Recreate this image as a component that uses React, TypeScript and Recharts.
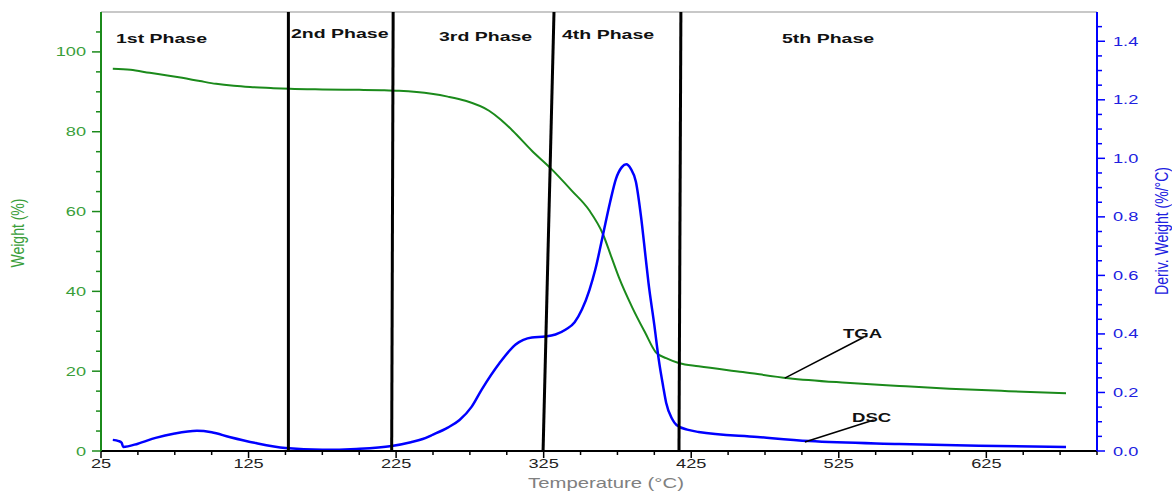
import React from 'react';
import { LineChart, Line, XAxis, YAxis, ReferenceLine } from 'recharts';

// TGA curve: temperature (°C) / weight (%)
const TGA_TEMP = [33, 45, 58, 70, 80, 92, 103, 115, 126, 140, 153, 175, 200, 215, 227, 249, 260, 272, 288, 296, 304, 317, 330, 344, 356, 365, 371, 376, 385, 394, 401, 408, 417, 430, 460, 491, 530, 566, 600, 640, 679];
const TGA_WEIGHT = [95.75, 95.5, 94.75, 94.1, 93.5, 92.7, 92.0, 91.5, 91.2, 90.95, 90.75, 90.6, 90.5, 90.4, 90.25, 89.5, 88.8, 87.75, 85.25, 83, 80.25, 75.25, 70.75, 65.25, 60.25, 54.5, 48.5, 43.5, 36, 29.5, 24.75, 23.25, 22, 21.25, 19.8, 18.25, 17.1, 16.3, 15.6, 15, 14.5];

// DSC / derivative weight curve: temperature (°C) / deriv. weight (%/°C)
const DSC_TEMP = [33, 37, 39, 40, 50, 62, 75, 90, 100, 112, 130, 150, 175, 198, 222, 235, 243, 250, 260, 268, 276, 283, 295, 306, 317, 326, 333, 340, 346, 351, 356, 360, 365, 370, 374, 378, 381, 384, 387.5, 391, 394, 396, 400, 403, 406, 408, 412, 415, 423, 430, 470, 505, 566, 620, 679];
const DSC_DERIV = [0.038, 0.034, 0.028, 0.014, 0.025, 0.045, 0.06, 0.069, 0.064, 0.048, 0.027, 0.01, 0.004, 0.007, 0.017, 0.03, 0.041, 0.056, 0.08, 0.106, 0.15, 0.21, 0.3, 0.364, 0.388, 0.391, 0.398, 0.415, 0.44, 0.484, 0.55, 0.62, 0.734, 0.85, 0.93, 0.97, 0.98, 0.965, 0.92, 0.8, 0.666, 0.576, 0.43, 0.312, 0.22, 0.165, 0.11, 0.089, 0.072, 0.065, 0.048, 0.034, 0.024, 0.018, 0.014];

const X_TICKS = [25, 50, 75, 100, 125, 150, 175, 200, 225, 250, 275, 300, 325, 350, 375, 400, 425, 450, 475, 500, 525, 550, 575, 600, 625, 650, 675, 700];
const WEIGHT_TICKS = [0, 5, 10, 15, 20, 25, 30, 35, 40, 45, 50, 55, 60, 65, 70, 75, 80, 85, 90, 95, 100, 105];
const DERIV_TICKS = [0, 0.05, 0.1, 0.15, 0.2, 0.25, 0.3, 0.35, 0.4, 0.45, 0.5, 0.55, 0.6, 0.65, 0.7, 0.75, 0.8, 0.85, 0.9, 0.95, 1.0, 1.05, 1.1, 1.15, 1.2, 1.25, 1.3, 1.35, 1.4, 1.45];

// phase boundaries: temperature at bottom and at top of the plot
const PHASE_BOTTOM = [152, 222, 324.6, 416.7];
const PHASE_TOP = [152, 223, 332, 418];
const PHASE_LABELS = ['1st Phase', '2nd Phase', '3rd Phase', '4th Phase', '5th Phase'];

const tgaData = TGA_TEMP.map((t, i) => ({ t, v: TGA_WEIGHT[i] }));
const dscData = DSC_TEMP.map((t, i) => ({ t, v: DSC_DERIV[i] }));

const GREEN = '#1b8a1b';
const GREEN_TXT = '#3a9e3a';
const BLUE = '#0000ff';
const FONT = '"Liberation Sans", Arial, sans-serif';
const SX = 1.4;

const XTick = ({ x, y, payload }: any) => {
  const v = payload.value;
  const major = (v - 25) % 100 === 0 && v < 700;
  return (
    <g>
      <line x1={x} x2={x} y1={y} y2={y + (major ? 7 : 4)} stroke="#000" strokeWidth={1.5} />
      {major && (
        <text transform={`translate(${x},${y + 17}) scale(${SX},1)`} textAnchor="middle" fontSize={13} fontFamily={FONT} fill="#222">
          {v}
        </text>
      )}
    </g>
  );
};

const WeightTick = ({ x, y, payload }: any) => {
  const v = payload.value;
  const major = v % 20 === 0;
  return (
    <g>
      <line x1={x - (major ? 9 : 5)} x2={x} y1={y} y2={y} stroke={GREEN} strokeWidth={1.5} />
      {major && (
        <text transform={`translate(${x - 15},${y + 4.5}) scale(${SX},1)`} textAnchor="end" fontSize={13} fontFamily={FONT} fill={GREEN_TXT}>
          {v}
        </text>
      )}
    </g>
  );
};

const DerivTick = ({ x, y, payload }: any) => {
  const v = payload.value;
  const major = Math.round(v * 100) % 20 === 0;
  return (
    <g>
      <line x1={x} x2={x + (major ? 8 : 5)} y1={y} y2={y} stroke={BLUE} strokeWidth={1.5} />
      {major && (
        <text transform={`translate(${x + 16},${y + 4.5}) scale(${SX},1)`} textAnchor="start" fontSize={13} fontFamily={FONT} fill="#2020e0">
          {v.toFixed(1)}
        </text>
      )}
    </g>
  );
};

// label placement (px) for phase names
const PHASE_POS = [
  [116, 43],
  [291, 37.5],
  [439, 41],
  [562, 39],
  [782, 43],
];

export default function App() {
  return (
    <div style={{ position: 'absolute', left: 0, top: 0, width: 1172, height: 491, background: '#fff' }}>
      <LineChart width={1172} height={491} margin={{ top: 12, right: 0, bottom: 0, left: 0 }}>
        <XAxis
          type="number"
          dataKey="t"
          domain={[25, 700]}
          ticks={X_TICKS}
          interval={0}
          tick={XTick}
          tickLine={false}
          tickSize={0}
          tickMargin={0}
          axisLine={{ stroke: '#000', strokeWidth: 2 }}
          height={40}
          allowDataOverflow
        />
        <YAxis
          yAxisId="w"
          type="number"
          domain={[0, 110]}
          ticks={WEIGHT_TICKS}
          interval={0}
          tick={WeightTick}
          tickLine={false}
          tickSize={0}
          tickMargin={0}
          axisLine={{ stroke: GREEN, strokeWidth: 2 }}
          width={101}
          allowDataOverflow
        />
        <YAxis
          yAxisId="d"
          orientation="right"
          type="number"
          domain={[0, 1.5]}
          ticks={DERIV_TICKS}
          interval={0}
          tick={DerivTick}
          tickLine={false}
          tickSize={0}
          tickMargin={0}
          axisLine={{ stroke: BLUE, strokeWidth: 2 }}
          width={75}
          allowDataOverflow
        />
        <ReferenceLine yAxisId="w" y={110} stroke="#c8c8c8" strokeWidth={2} />
        <Line yAxisId="w" data={tgaData} dataKey="v" type="monotone" stroke={GREEN} strokeWidth={2} dot={false} isAnimationActive={false} />
        <Line yAxisId="d" data={dscData} dataKey="v" type="monotone" stroke={BLUE} strokeWidth={2.5} dot={false} isAnimationActive={false} />
        {PHASE_BOTTOM.map((b, i) => (
          <ReferenceLine
            key={i}
            yAxisId="w"
            segment={[{ x: b, y: 0 }, { x: PHASE_TOP[i], y: 110 }]}
            stroke="#000"
            strokeWidth={3}
          />
        ))}
        <ReferenceLine yAxisId="w" segment={[{ x: 488.4, y: 18.25 }, { x: 541.9, y: 28.5 }]} stroke="#000" strokeWidth={1.5} />
        <ReferenceLine yAxisId="d" segment={[{ x: 502, y: 0.031 }, { x: 548.7, y: 0.106 }]} stroke="#000" strokeWidth={1.5} />
      </LineChart>
      <svg width={1172} height={491} style={{ position: 'absolute', left: 0, top: 0, pointerEvents: 'none' }}>
        {PHASE_LABELS.map((p, i) => (
          <text
            key={p}
            transform={`translate(${PHASE_POS[i][0]},${PHASE_POS[i][1]}) scale(1.5,1)`}
            fontSize={13}
            fontWeight="bold"
            fontFamily={FONT}
            fill="#111"
          >
            {p}
          </text>
        ))}
        <text transform="translate(843,338) scale(1.55,1)" fontSize={12} fontWeight="bold" fontFamily={FONT} fill="#111">TGA</text>
        <text transform="translate(852,422) scale(1.55,1)" fontSize={12} fontWeight="bold" fontFamily={FONT} fill="#111">DSC</text>
        <text transform={`translate(606,488) scale(${SX},1)`} textAnchor="middle" fontSize={14.5} fontFamily={FONT} fill="#808080">
          Temperature (°C)
        </text>
        <text transform="translate(24,233) scale(1.25,1) rotate(-90)" textAnchor="middle" fontSize={14} fontFamily={FONT} fill={GREEN_TXT}>
          Weight (%)
        </text>
        <text transform="translate(1168,231) scale(1.25,1) rotate(-90)" textAnchor="middle" fontSize={14} fontFamily={FONT} fill="#2020e0">
          Deriv. Weight (%/°C)
        </text>
      </svg>
    </div>
  );
}
